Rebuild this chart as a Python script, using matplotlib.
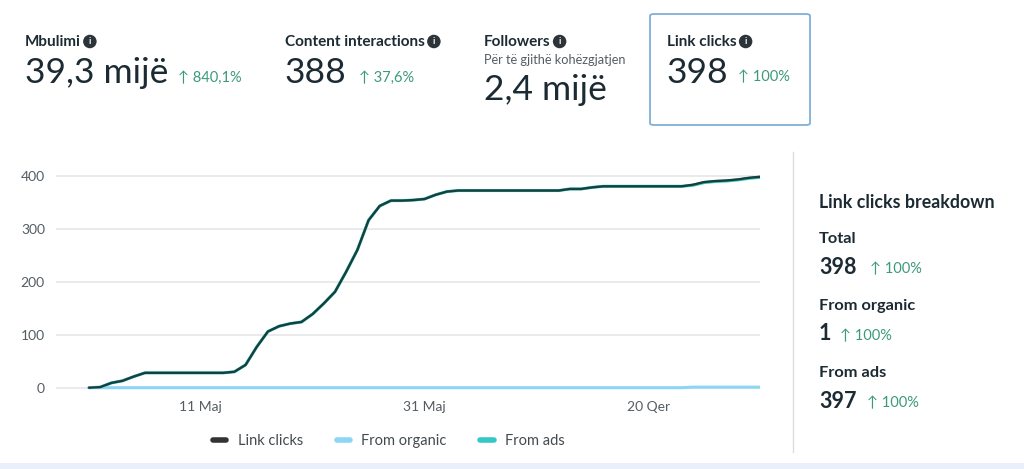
import numpy as np
import matplotlib
matplotlib.use('Agg')
import matplotlib.pyplot as plt
from matplotlib.patches import FancyBboxPatch, Rectangle
from matplotlib.lines import Line2D

# Te dhenat (1 Maj - 30 Qer)
dites = np.arange(61)
link_clicks = [0, 1, 9, 13, 21, 28, 28, 28, 28, 28, 28, 28, 28, 30, 43, 77, 106, 116, 121, 124,
               139, 159, 181, 219, 260, 316, 343, 353, 353, 354, 356, 364, 370, 372, 372, 372, 372, 372, 372, 372,
               372, 372, 372, 375, 375, 378, 380, 380, 380, 380, 380, 380, 380, 380, 383, 388, 390, 391, 393, 396,
               398]
from_organic = [0] * 54 + [1] * 7
from_ads = [t - o for t, o in zip(link_clicks, from_organic)]

tick_dites = [10, 30, 50]
tick_labels = ['11 Maj', '31 Maj', '20 Qer']

kpi_tituj = ['Mbulimi', 'Content interactions', 'Followers', 'Link clicks']
kpi_vlera = ['39,3 mijë', '388', '2,4 mijë', '398']
kpi_ndryshim = ['840,1%', '37,6%', None, '100%']

breakdown_tituj = ['Total', 'From organic', 'From ads']
breakdown_vlera = ['398', '1', '397']
breakdown_ndryshim = ['100%', '100%', '100%']

c_dark = '#1c2b33'
c_green = '#3d9a78'
c_line = '#173f3b'
c_org = '#8dd5f7'
c_ads = '#35c7c7'

W, H = 1024, 469
fig = plt.figure(figsize=(W / 100, H / 100), dpi=100)
plt.rcParams['font.family'] = ['Lato', 'DejaVu Sans']


def fx(x):
    return x / W


def fy(y):
    return 1 - y / H


# Grafiku
ax = fig.add_axes([fx(56), fy(395), fx(760 - 56), (395 - 165) / H])
ax.plot(dites, from_ads, color=c_ads, lw=2.2, solid_capstyle='round')
ax.plot(dites, from_organic, color=c_org, lw=2.2, solid_capstyle='round')
ax.plot(dites, link_clicks, color=c_line, lw=1.7, solid_capstyle='round')
ax.set_xlim(-2.95, 60)
ax.set_ylim(-13.8, 420.2)
ax.set_yticks([0, 100, 200, 300, 400])
ax.set_xticks(tick_dites)
ax.set_xticklabels(tick_labels)
ax.grid(axis='y', color='#e6e6e6', lw=1.2)
ax.set_axisbelow(True)
for s in ax.spines.values():
    s.set_visible(False)
ax.tick_params(length=0, labelsize=10, colors='#555d63')
ax.tick_params(axis='y', pad=8)
ax.tick_params(axis='x', pad=4)

# Legjenda
handles = [Line2D([], [], color='#333333', lw=4, solid_capstyle='round'),
           Line2D([], [], color=c_org, lw=4, solid_capstyle='round'),
           Line2D([], [], color=c_ads, lw=4, solid_capstyle='round')]
leg = fig.legend(handles, ['Link clicks', 'From organic', 'From ads'], loc='center',
                 bbox_to_anchor=(fx(389), fy(441)), ncol=3, frameon=False,
                 handlelength=0.9, columnspacing=2.3, handletextpad=0.8, fontsize=10.5)
for t in leg.get_texts():
    t.set_color('#444b50')

# Kutia e Link clicks
box = FancyBboxPatch((fx(650), fy(125)), fx(160), (125 - 14) / H,
                     boxstyle='round,pad=0,rounding_size=0.004', transform=fig.transFigure,
                     fc='white', ec='#7fb0d8', lw=1.3)
fig.patches.append(box)

# KPI ne krye
renderer = fig.canvas.get_renderer()
kx = [25, 285, 484, 667]
ndr_x = [178, 359, None, 738]
for i in range(4):
    tt = fig.text(fx(kx[i]), fy(42), kpi_tituj[i], fontsize=11, fontweight='bold', color=c_dark,
                  va='center', ha='left')
    skaji = tt.get_window_extent(renderer).x1
    fig.text((skaji + 9) / W, fy(41.5), 'i', fontsize=6.5, fontweight='bold', color='white',
             ha='center', va='center',
             bbox=dict(boxstyle='circle,pad=0.25', fc='#2d3439', ec='none'))
    vy = 90 if i == 2 else 73
    fig.text(fx(kx[i]), fy(vy), kpi_vlera[i], fontsize=25.5, color=c_dark, va='center', ha='left')
    if kpi_ndryshim[i] is not None:
        fig.text(fx(ndr_x[i]), fy(77.5), '↑ ' + kpi_ndryshim[i], fontsize=10.5, color=c_green,
                 va='center', ha='left')
fig.text(fx(484), fy(60), 'Për të gjithë kohëzgjatjen', fontsize=9.2, color='#555d63',
         va='center', ha='left')

# Paneli djathtas
fig.add_artist(Line2D([fx(793), fx(793)], [fy(152), fy(452)], color='#dddddd', lw=1))
fig.text(fx(819), fy(202), 'Link clicks breakdown', fontsize=12.8, fontweight='bold', color=c_dark,
         va='center', ha='left')
by = [239, 306, 373]
ndr_bx = [870, 840, 867]
for i in range(3):
    fig.text(fx(819), fy(by[i]), breakdown_tituj[i], fontsize=11.8, fontweight='bold', color=c_dark,
             va='center', ha='left')
    fig.text(fx(819), fy(by[i] + 28), breakdown_vlera[i], fontsize=15.5, fontweight='bold',
             color=c_dark, va='center', ha='left')
    fig.text(fx(ndr_bx[i]), fy(by[i] + 30), '↑ ' + breakdown_ndryshim[i], fontsize=10.5,
             color=c_green, va='center', ha='left')

# Shiriti poshte
fig.patches.append(Rectangle((0, 0), 1, 6 / H, transform=fig.transFigure, fc='#e9f0fb', ec='none'))

fig.savefig('out.png', dpi=100)
